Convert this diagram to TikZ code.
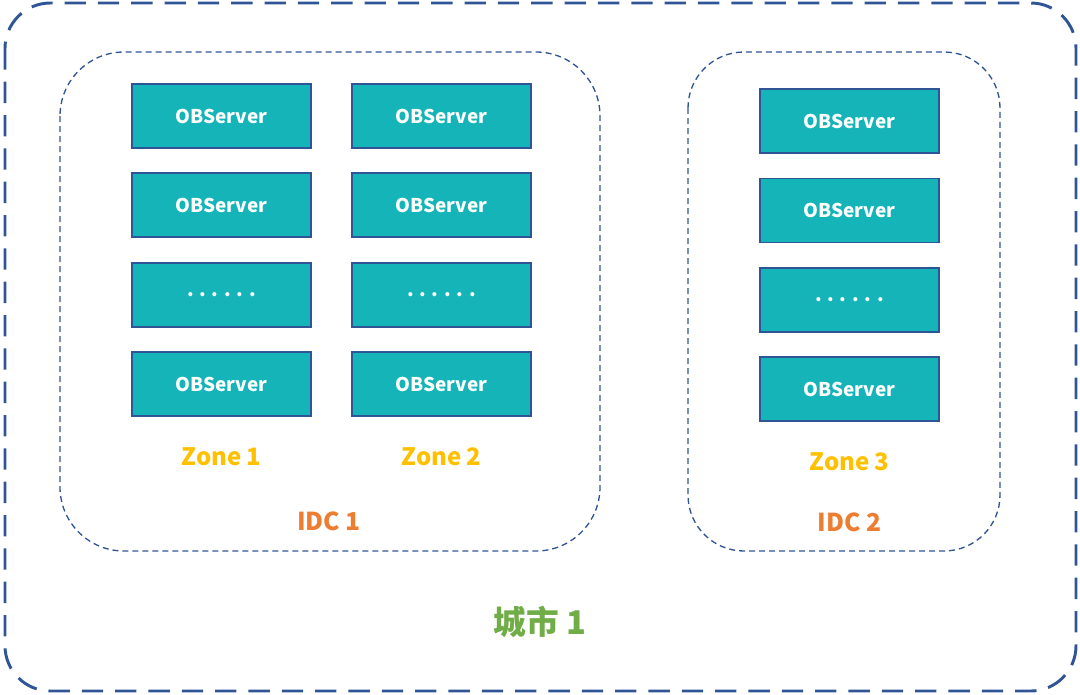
\documentclass[tikz,border=0pt]{standalone}
\usepackage{fontspec}
\setmainfont{Noto Sans CJK SC}
\usetikzlibrary{positioning}
\definecolor{frame}{HTML}{2F5597}
\definecolor{teal}{HTML}{14B4B9}
\definecolor{zonec}{HTML}{FFC000}
\definecolor{idcc}{HTML}{ED7D31}
\definecolor{cityc}{HTML}{70AD47}
\tikzset{
  srv/.style={draw=frame, line width=1.2pt, fill=teal, minimum width=134.25pt, minimum height=48pt, inner sep=0pt, text=white, font=\fontsize{14.2}{16}\selectfont\bfseries},
  zonelbl/.style={text=zonec, font=\fontsize{18}{20}\selectfont\bfseries},
  idclbl/.style={text=idcc, font=\fontsize{18.5}{20}\selectfont\bfseries},
  citylbl/.style={text=cityc, font=\fontsize{24.5}{26}\selectfont\bfseries},
  outerframe/.style={draw=frame, line width=2.2pt, dash pattern=on 16pt off 9pt, rounded corners=34pt},
  idcframe/.style={draw=frame, line width=1pt, dash pattern=on 4.5pt off 3pt, rounded corners=48pt}
}
\begin{document}
\begin{tikzpicture}[x=0.75pt,y=-0.75pt]
\useasboundingbox (0,0) rectangle (1080,694);
\draw[outerframe] (5,3) rectangle (1076,691);
\draw[idcframe] (60,52) rectangle (600,551);
\draw[idcframe, rounded corners=42pt] (688,52) rectangle (1000,551);
% Zone 1
\node[srv] (a1) at (221.5,116) {\raisebox{-1.5pt}{OBServer}};
\node[srv] (a2) at (221.5,205) {\raisebox{-1.5pt}{OBServer}};
\node[srv] (a3) at (221.5,295) {\raisebox{-1.5pt}{. . . . . .}};
\node[srv] (a4) at (221.5,384) {\raisebox{-1.5pt}{OBServer}};
% Zone 2
\node[srv] (b1) at (441.5,116) {\raisebox{-1.5pt}{OBServer}};
\node[srv] (b2) at (441.5,205) {\raisebox{-1.5pt}{OBServer}};
\node[srv] (b3) at (441.5,295) {\raisebox{-1.5pt}{. . . . . .}};
\node[srv] (b4) at (441.5,384) {\raisebox{-1.5pt}{OBServer}};
% Zone 3
\node[srv] (c1) at (849.5,121) {\raisebox{-1.5pt}{OBServer}};
\node[srv] (c2) at (849.5,210.5) {\raisebox{-1.5pt}{OBServer}};
\node[srv] (c3) at (849.5,300) {\raisebox{-1.5pt}{. . . . . .}};
\node[srv] (c4) at (849.5,389) {\raisebox{-1.5pt}{OBServer}};
\node[zonelbl] (z1) at (221.5,457) {Zone 1};
\node[zonelbl] (z2) at (441.5,457) {Zone 2};
\node[zonelbl] (z3) at (849.5,462) {Zone 3};
\node[idclbl] (i1) at (329,521) {IDC 1};
\node[idclbl] (i2) at (849.5,522) {IDC 2};
\node[citylbl] (city) at (540,622) {城市 1};
\end{tikzpicture}
\end{document}
